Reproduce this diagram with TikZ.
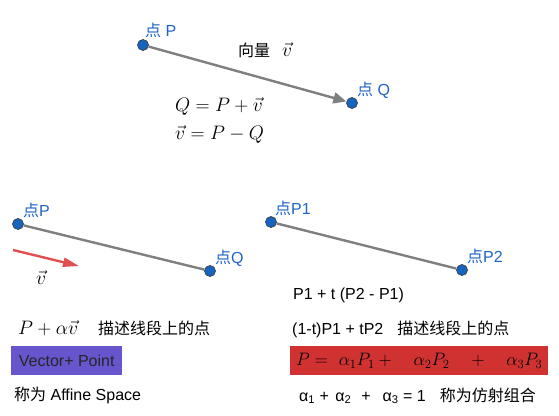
\RequirePackage{fix-cm}
\documentclass[tikz,border=0pt]{standalone}
\usepackage{amsmath}
\usepackage{xcolor}
\usepackage{fontspec}
\setmainfont{Liberation Sans}
\newfontfamily\cjk{Noto Sans CJK SC}
\usetikzlibrary{arrows.meta}

\definecolor{ptblue}{HTML}{1565C0}
\definecolor{lblblue}{HTML}{1E64C8}
\definecolor{segray}{HTML}{7F7F7F}
\definecolor{vecred}{HTML}{E05050}
\definecolor{boxpurple}{HTML}{6655CC}
\definecolor{boxred}{HTML}{D03232}

\begin{document}
\begin{tikzpicture}[x=1pt, y=-1pt, every node/.style={font=\fontsize{16}{18}\selectfont},
  dot/.style={circle, draw=black!75, fill=ptblue, inner sep=0pt, minimum size=11pt, line width=0.7pt},
  ptlabel/.style={text=lblblue, anchor=base west, inner sep=0pt},
  plain/.style={anchor=base west, inner sep=0pt},
  mathtext/.style={anchor=base west, inner sep=0pt, font=\fontsize{19.5}{22}\selectfont},
  seg/.style={draw=segray, line width=2.4pt}]
  \useasboundingbox (0,0) rectangle (559,415);

  % top: vector from P to Q
  \node[dot] (p) at (143,45) {};
  \node[dot] (q) at (352,103) {};
  \node[ptlabel] (plabel) at (145,36) {{\cjk 点} P};
  \node[ptlabel] (qlabel) at (357,95) {{\cjk 点} Q};
  \draw[seg, -{Triangle[length=13pt, width=11pt]}] (p) -- (q);
  \node[plain] (vlabel) at (238,56) {{\cjk 向量}\hspace{12pt}{\fontsize{19.5}{22}\selectfont$\vec{v}$}};
  \node[mathtext] (eq1) at (175,111) {$Q = P + \vec{v}$};
  \node[mathtext] (eq2) at (175,139) {$\vec{v} = P - Q$};

  % middle left: segment and direction
  \node[dot] (pa) at (18,224) {};
  \node[dot] (qa) at (210,271) {};
  \node[ptlabel] (palabel) at (23,216) {{\cjk 点}P};
  \node[ptlabel] (qalabel) at (215,263) {{\cjk 点}Q};
  \draw[seg] (pa) -- (qa);
  \coordinate (vtail) at (13,250);
  \coordinate (vhead) at (79,266);
  \draw[vecred, line width=2.4pt, -{Triangle[length=16pt, width=9pt]}] (vtail) -- (vhead);
  \node[mathtext] (va) at (36,284) {$\vec{v}$};

  % middle right: segment P1 P2
  \node[dot] (p1) at (271,222) {};
  \node[dot] (p2) at (462,270) {};
  \node[ptlabel] (p1label) at (275,214) {{\cjk 点}P1};
  \node[ptlabel] (p2label) at (467,262) {{\cjk 点}P2};
  \draw[seg] (p1) -- (p2);
  \node[plain] (param) at (293,299) {P1 + t (P2 - P1)};

  % bottom left
  \node[mathtext] (pav) at (18,334) {$P + \alpha\vec{v}$};
  \node[plain] (descl) at (98,334) {\cjk 描述线段上的点};
  \node[fill=boxpurple, anchor=north west, minimum width=111pt, minimum height=29pt, inner sep=0pt] (vp) at (11,346) {\color{black!85}Vector+ Point};
  \node[plain] (affine) at (14,400) {{\cjk 称为} Affine Space};

  % bottom right
  \node[plain] (comb) at (292,334) {(1-t)P1 + tP2\hspace{14pt}{\cjk 描述线段上的点}};
  \node[fill=boxred, anchor=north west, minimum width=258pt, minimum height=29pt, inner sep=0pt, font=\fontsize{18}{20}\selectfont] (pbox) at (290,346) {$P =\hspace{6pt} \alpha_1P_1 + \quad \alpha_2P_2 \quad + \quad \alpha_3P_3$};
  \node[plain] (sum) at (299,401) {α\textsubscript{1} + \hspace{2pt}α\textsubscript{2}\hspace{10pt}+\hspace{12pt}α\textsubscript{3} = 1\hspace{14pt}{\cjk 称为仿射组合}};
\end{tikzpicture}
\end{document}
